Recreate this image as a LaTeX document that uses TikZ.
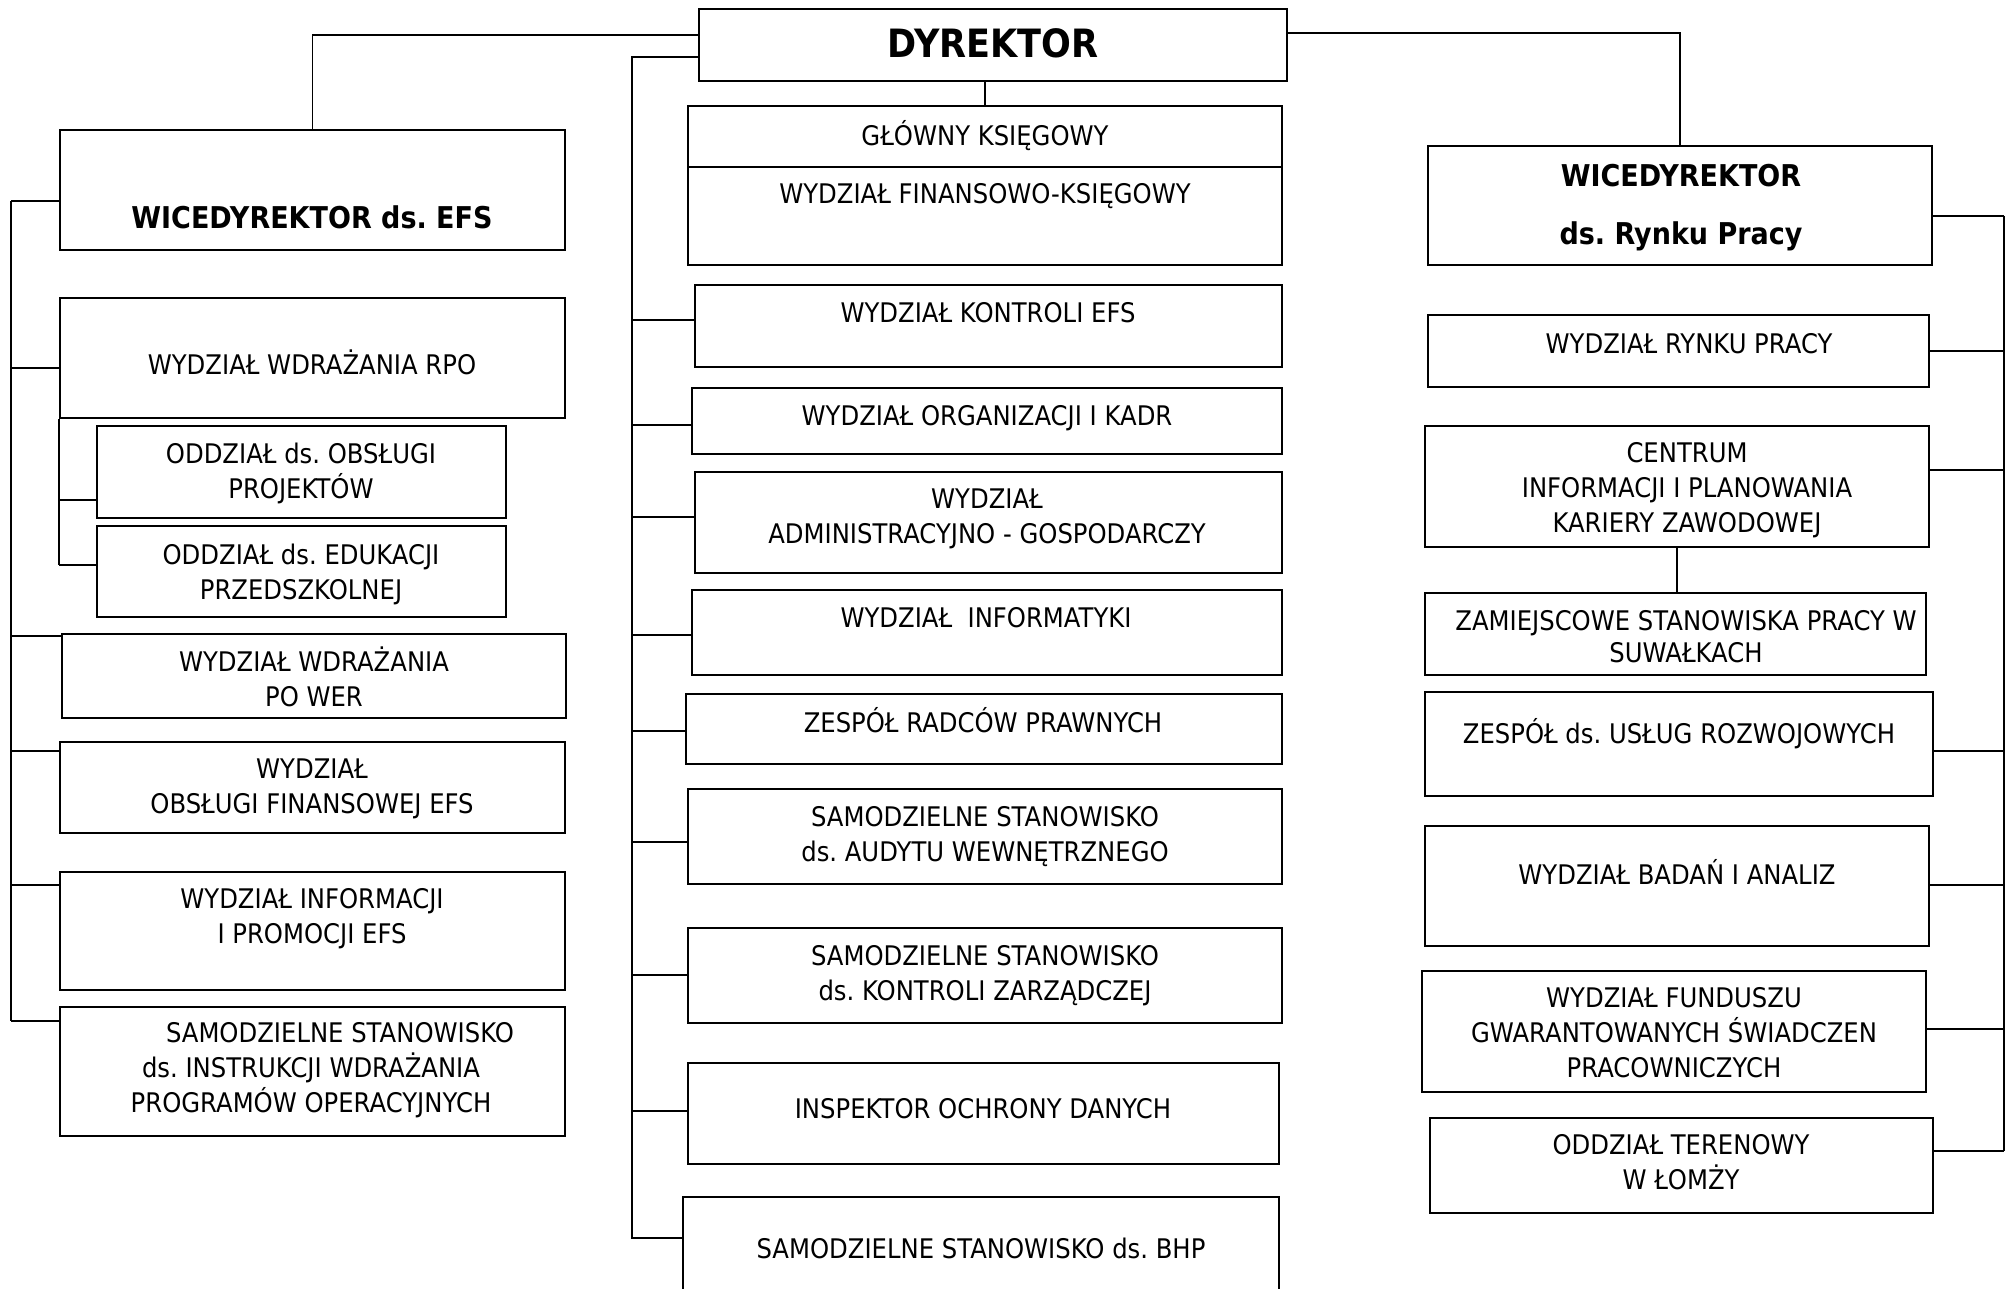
\documentclass[tikz,border=0pt]{standalone}
\usepackage{fontspec}
\setmainfont{DejaVu Sans}[FakeStretch=0.9]
\usetikzlibrary{fit}
\frenchspacing
\tikzset{
  box/.style={draw, line width=2.2pt, inner sep=0pt},
  lbl/.style={anchor=base, align=center, inner sep=0pt, font=\fontsize{27}{35}\selectfont},
  head/.style={anchor=base, align=center, inner sep=0pt, font=\fontsize{30}{58}\selectfont\bfseries},
  link/.style={line width=1.8pt},
}
\begin{document}
\begin{tikzpicture}[x=1pt,y=-1pt]
\clip (0,0) rectangle (2009,1288);
% dyrektor
\node[box, fit={(699,9) (1287,81)}] (dyr) {};
\node[head, font=\fontsize{39}{45}\selectfont\bfseries] (dyr-t) at (993,57) {DYREKTOR};
% left column (text nodes sit on the baseline of their last line)
\node[box, fit={(60,130) (565,250)}] (wefs) {};
\node[head] (wefs-t) at (312,228) {WICEDYREKTOR ds. EFS};
\node[box, fit={(60,298) (565,418)}] (rpo) {};
\node[lbl] (rpo-t) at (312,374) {WYDZIAŁ WDRAŻANIA RPO};
\node[box, fit={(97,426) (506,518)}] (oo1) {};
\node[lbl] (oo1-t) at (301,498.6) {ODDZIAŁ ds. OBSŁUGI\\PROJEKTÓW};
\node[box, fit={(97,526) (506,617)}] (oo2) {};
\node[lbl] (oo2-t) at (301,599) {ODDZIAŁ ds. EDUKACJI\\PRZEDSZKOLNEJ};
\node[box, fit={(62,634) (566,718)}] (power) {};
\node[lbl] (power-t) at (314,706.6) {WYDZIAŁ WDRAŻANIA\\PO WER};
\node[box, fit={(60,742) (565,833)}] (ofin) {};
\node[lbl] (ofin-t) at (312,813.7) {WYDZIAŁ\\OBSŁUGI FINANSOWEJ EFS};
\node[box, fit={(60,872) (565,990)}] (promo) {};
\node[lbl] (promo-t) at (312,943.6) {WYDZIAŁ INFORMACJI\\I PROMOCJI EFS};
\node[box, fit={(60,1007) (565,1136)}] (instr) {};
\node[lbl] (instr-t) at (311,1112.5) {\hspace*{58pt}SAMODZIELNE STANOWISKO\\ds. INSTRUKCJI WDRAŻANIA\\PROGRAMÓW OPERACYJNYCH};
% center column
\node[box, fit={(688,106) (1282,167)}] (gk) {};
\node[lbl] (gk-t) at (985,145) {GŁÓWNY KSIĘGOWY};
\node[box, fit={(688,167) (1282,265)}] (fk) {};
\node[lbl] (fk-t) at (985,203) {WYDZIAŁ FINANSOWO-KSIĘGOWY};
\node[box, fit={(695,285) (1282,367)}] (kefs) {};
\node[lbl] (kefs-t) at (988,322) {WYDZIAŁ KONTROLI EFS};
\node[box, fit={(692,388) (1282,454)}] (kadry) {};
\node[lbl] (kadry-t) at (987,425) {WYDZIAŁ ORGANIZACJI I KADR};
\node[box, fit={(695,472) (1282,573)}] (admin) {};
\node[lbl] (admin-t) at (987,543) {WYDZIAŁ\\ADMINISTRACYJNO - GOSPODARCZY};
\node[box, fit={(692,590) (1282,675)}] (it) {};
\node[lbl] (it-t) at (986,627) {WYDZIAŁ\ \ INFORMATYKI};
\node[box, fit={(686,694) (1282,764)}] (radcy) {};
\node[lbl] (radcy-t) at (983,732) {ZESPÓŁ RADCÓW PRAWNYCH};
\node[box, fit={(688,789) (1282,884)}] (audyt) {};
\node[lbl] (audyt-t) at (985,861) {SAMODZIELNE STANOWISKO\\ds. AUDYTU WEWNĘTRZNEGO};
\node[box, fit={(688,928) (1282,1023)}] (kz) {};
\node[lbl] (kz-t) at (985,1000.2) {SAMODZIELNE STANOWISKO\\ds. KONTROLI ZARZĄDCZEJ};
\node[box, fit={(688,1063) (1279,1164)}] (iod) {};
\node[lbl] (iod-t) at (983,1118) {INSPEKTOR OCHRONY DANYCH};
\node[box, fit={(683,1197) (1279,1320)}] (bhp) {};
\node[lbl] (bhp-t) at (981,1258) {SAMODZIELNE STANOWISKO ds. BHP};
% right column
\node[box, fit={(1428,146) (1932,265)}] (wrp) {};
\node[head] (wrp-t) at (1681,244.6) {WICEDYREKTOR\\ds. Rynku Pracy};
\node[box, fit={(1428,315) (1929,387)}] (rynek) {};
\node[lbl] (rynek-t) at (1689,353) {WYDZIAŁ RYNKU PRACY};
\node[box, fit={(1425,426) (1929,547)}] (centrum) {};
\node[lbl] (centrum-t) at (1687,532.6) {CENTRUM\\INFORMACJI I PLANOWANIA\\KARIERY ZAWODOWEJ};
\node[box, fit={(1425,593) (1926,675)}] (zam) {};
\node[lbl] (zam-t) at (1686,662.7) {ZAMIEJSCOWE STANOWISKA PRACY W\\[-3pt]SUWAŁKACH};
\node[box, fit={(1425,692) (1933,796)}] (uslug) {};
\node[lbl] (uslug-t) at (1679,743) {ZESPÓŁ ds. USŁUG ROZWOJOWYCH};
\node[box, fit={(1425,826) (1929,946)}] (badan) {};
\node[lbl] (badan-t) at (1677,884) {WYDZIAŁ BADAŃ I ANALIZ};
\node[box, fit={(1422,971) (1926,1092)}] (fund) {};
\node[lbl] (fund-t) at (1674,1077.4) {WYDZIAŁ FUNDUSZU\\GWARANTOWANYCH ŚWIADCZEN\\PRACOWNICZYCH};
\node[box, fit={(1430,1118) (1933,1213)}] (lomza) {};
\node[lbl] (lomza-t) at (1681,1189) {ODDZIAŁ TERENOWY\\W ŁOMŻY};
% links from the director
\draw[link] ([yshift=-27pt]dyr.north west) -| (wefs.north);
\draw[link] ([yshift=-25pt]dyr.north east) -| (wrp.north);
\draw[link] (dyr.south -| gk.north) -- (gk.north);
% center spine
\coordinate (cs) at (632,1238);
\draw[link] ([yshift=-49pt]dyr.north west) -| (cs) -- (cs -| bhp.west);
\foreach \b/\d in {kefs/36,kadry/38,admin/46,it/46,radcy/38,audyt/54,kz/48,iod/49} {
  \path ([yshift=-\d pt]\b.north west) coordinate (\b-in);
  \draw[link] (\b-in) -- (cs |- \b-in);
}
% left spine
\coordinate (ls) at (11,0);
\foreach \b/\d in {wefs/72,rpo/71,power/3,ofin/10,promo/14,instr/15} {
  \path ([yshift=-\d pt]\b.north west) coordinate (\b-in);
  \draw[link] (\b-in) -- (ls |- \b-in);
}
\draw[link] (ls |- wefs-in) -- (ls |- instr-in);
\foreach \b/\d in {oo1/75,oo2/40} {
  \path ([yshift=-\d pt]\b.north west) coordinate (\b-in);
  \draw[link] (\b-in) -- (rpo.west |- \b-in);
}
\draw[link] (rpo.south west) -- (rpo.west |- oo2-in);
% right spine
\coordinate (rs) at (2004,0);
\foreach \b/\d in {wrp/71,rynek/37,centrum/45,uslug/60,badan/60,fund/59,lomza/34} {
  \path ([yshift=-\d pt]\b.north east) coordinate (\b-in);
  \draw[link] (\b-in) -- (rs |- \b-in);
}
\draw[link] (rs |- wrp-in) -- (rs |- lomza-in);
\draw[line width=1.2pt] (centrum.south) -- (centrum.south |- zam.north);
\end{tikzpicture}
\end{document}
